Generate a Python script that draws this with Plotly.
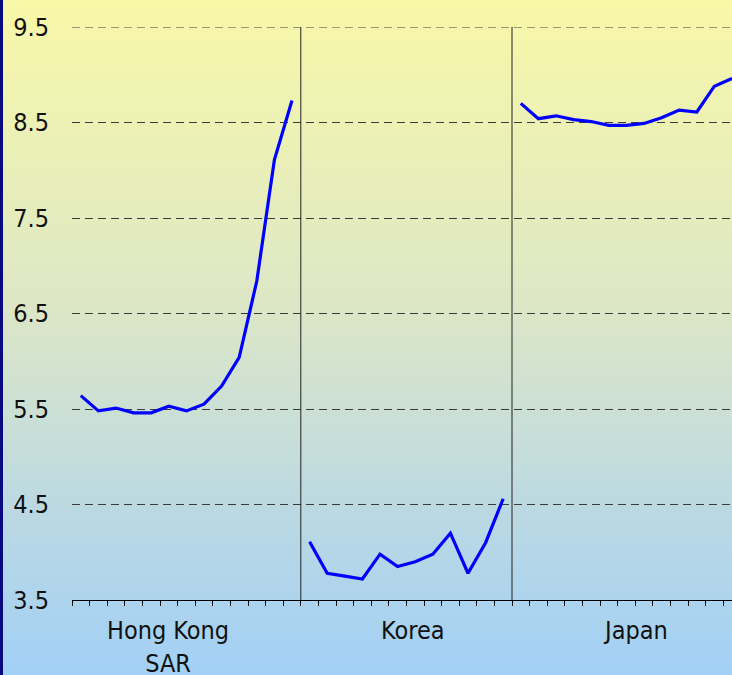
import base64
import plotly.graph_objects as go

# Economies and their series (one value per period)
groups = ["Hong Kong<br>SAR", "Korea", "Japan"]
hk_values = [5.64, 5.48, 5.51, 5.46, 5.46, 5.53, 5.48, 5.55, 5.74, 6.04, 6.84, 8.11, 8.73]
korea_values = [4.11, 3.78, 3.75, 3.72, 3.98, 3.85, 3.90, 3.98, 4.20, 3.78, 4.10, 4.56]
japan_values = [8.70, 8.54, 8.57, 8.53, 8.51, 8.47, 8.47, 8.49, 8.55, 8.63, 8.61, 8.88, 8.96]
y_ticks = [3.5, 4.5, 5.5, 6.5, 7.5, 8.5, 9.5]

series = [hk_values, korea_values, japan_values]

W, H = 732, 675
M_L, M_R, M_T, M_B = 72, 0, 27, 75
PW, PH = W - M_L - M_R, H - M_T - M_B
FONT = "DejaVu Sans Condensed, DejaVu Sans, Liberation Sans, sans-serif"

fig = go.Figure()

# consecutive slot positions; each group follows the previous one
starts = []
pos = 0
for vals in series:
    starts.append(pos)
    fig.add_trace(go.Scatter(
        x=list(range(pos, pos + len(vals))), y=vals, mode="lines",
        line=dict(color="#0000FF", width=3.2), showlegend=False, hoverinfo="skip"))
    pos += len(vals)

x_min = -0.5
x_max = starts[2] + len(japan_values) - 1

shapes = []
# dashed gridline along the top of the value range
shapes.append(dict(type="line", xref="paper", yref="y", x0=0, x1=1,
                   y0=y_ticks[-1], y1=y_ticks[-1],
                   line=dict(color="#3A3A3A", width=1, dash="8px,5px"), layer="below"))
# vertical separators between groups
for s in starts[1:]:
    shapes.append(dict(type="line", xref="x", yref="y", x0=s - 0.5, x1=s - 0.5,
                       y0=y_ticks[0], y1=y_ticks[-1],
                       line=dict(color="#222222", width=1)))
# dark border on the left edge
shapes.append(dict(type="rect", xref="paper", yref="paper",
                   x0=-M_L / PW, x1=(3 - M_L) / PW, y0=-M_B / PH, y1=1 + M_T / PH,
                   fillcolor="#0A0A80", line=dict(width=0), layer="above"))

# vertical background gradient, pale yellow to light blue
svg = ('<svg xmlns="http://www.w3.org/2000/svg" width="100" height="100" '
       'viewBox="0 0 100 100" preserveAspectRatio="none">'
       '<defs><linearGradient id="g" x1="0" y1="0" x2="0" y2="1">'
       '<stop offset="0" stop-color="#F8F8A8"/>'
       '<stop offset="0.45" stop-color="#DDE7C6"/>'
       '<stop offset="0.75" stop-color="#BCD9E2"/>'
       '<stop offset="1" stop-color="#A2D0F6"/>'
       '</linearGradient></defs><rect width="100" height="100" fill="url(#g)"/></svg>')
src = "data:image/svg+xml;base64," + base64.b64encode(svg.encode()).decode()

# group labels under the axis
label_x = [4.95, 18.9, 31.5]
annotations = []
for lx, txt in zip(label_x, groups):
    annotations.append(dict(x=lx, xref="x", y=(600 - 614) / PH, yref="paper",
                            text=txt, showarrow=False, xanchor="center", yanchor="top",
                            font=dict(family=FONT, size=25, color="#111111")))

fig.update_layout(
    width=W, height=H,
    margin=dict(l=M_L, r=M_R, t=M_T, b=M_B),
    paper_bgcolor="rgba(0,0,0,0)", plot_bgcolor="rgba(0,0,0,0)",
    shapes=shapes, annotations=annotations,
    images=[dict(source=src, xref="paper", yref="paper",
                 x=-M_L / PW, y=1 + M_T / PH, sizex=W / PW, sizey=H / PH,
                 xanchor="left", yanchor="top", sizing="stretch", layer="below")],
    xaxis=dict(range=[x_min, x_max], showgrid=False, zeroline=False,
               showline=True, linecolor="#000000", linewidth=1,
               showticklabels=False, ticks="",
               minor=dict(ticks="outside", tick0=-0.5, dtick=1, ticklen=5,
                          tickcolor="#000000", tickwidth=1, showgrid=False)),
    yaxis=dict(range=[y_ticks[0], y_ticks[-1]], tickvals=y_ticks,
               ticktext=[f"{v:.1f}" for v in y_ticks], ticks="",
               ticklabelstandoff=22, zeroline=False, showline=False,
               showgrid=True, gridcolor="#3A3A3A", gridwidth=1, griddash="8px,5px",
               tickfont=dict(family=FONT, size=25, color="#111111")),
)

fig.write_html("out.html")
